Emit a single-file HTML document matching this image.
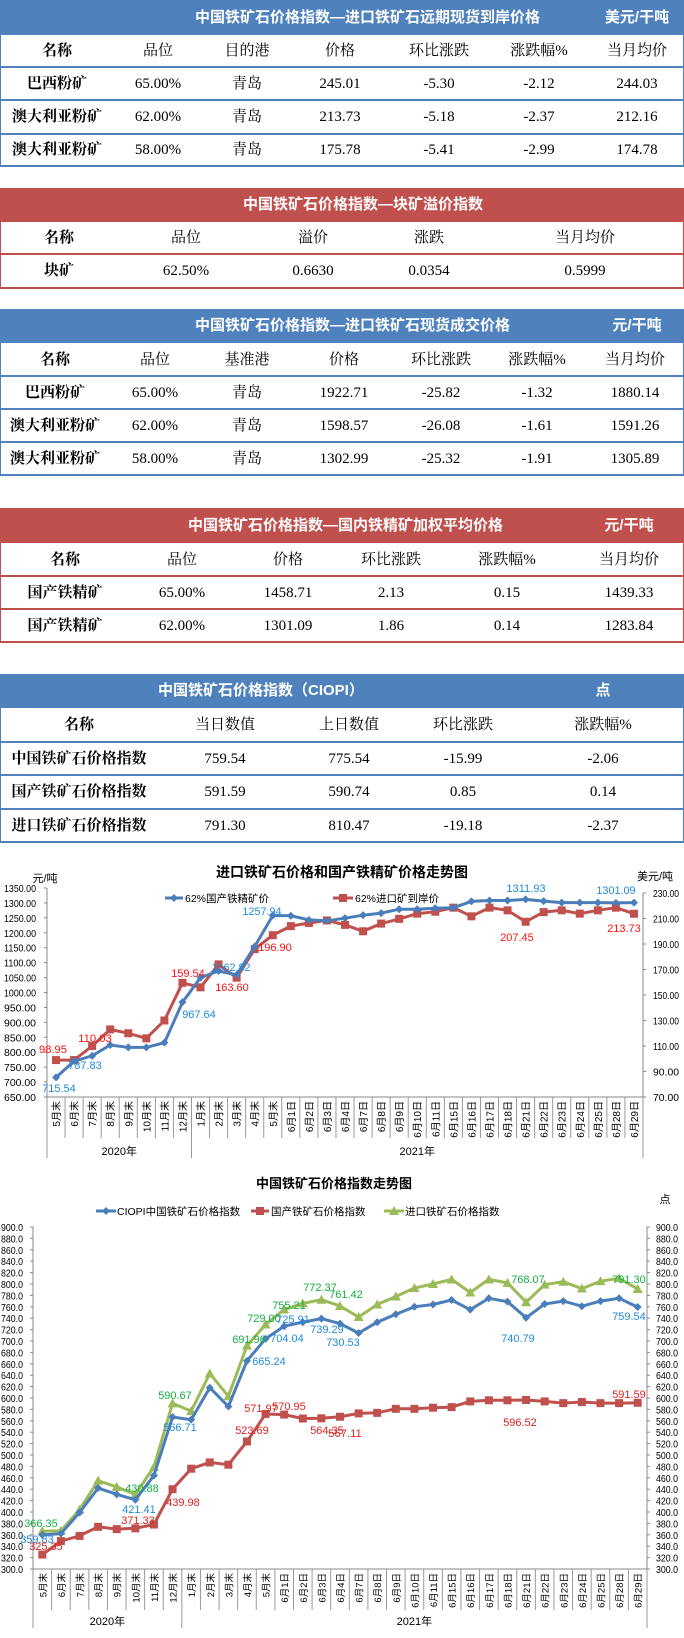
<!DOCTYPE html>
<html><head><meta charset="utf-8">
<style>
body{margin:0;width:684px;height:1638px;background:#fff;position:relative;overflow:hidden;font-family:"Liberation Serif","Noto Serif CJK SC",serif;}
.a{position:absolute;white-space:nowrap;}
.hd{position:absolute;left:0;width:684px;}
</style></head><body>
<div id="root"></div>
<svg id="c" width="684" height="1638" style="position:absolute;left:0;top:0" xmlns="http://www.w3.org/2000/svg"></svg>
<script>
var root=document.getElementById('root');
function div(css,txt){var d=document.createElement('div');d.className='a';d.style.cssText=css;if(txt!==undefined)d.textContent=txt;root.appendChild(d);return d;}
function txt(cx,cy,t,opt){opt=opt||{};var w=200;div('left:'+(cx-w/2)+'px;width:'+w+'px;text-align:center;top:'+(cy-9)+'px;line-height:18px;font-size:'+(opt.fs||15)+'px;color:'+(opt.c||'#000')+';font-weight:'+(opt.b?'bold':'normal')+';font-family:'+(opt.sans?'"Liberation Sans","Noto Sans CJK SC",sans-serif':'"Liberation Serif","Noto Serif CJK SC",serif'),t);}
function table(cfg){
 var col=cfg.col;
 div('left:0;top:'+cfg.y[0]+'px;width:684px;height:'+(cfg.y[1]-cfg.y[0])+'px;background:'+col);
 txt(cfg.tx,(cfg.y[0]+cfg.y[1])/2,cfg.title,{c:'#fff',b:1,sans:1,fs:15});
 if(cfg.unit)txt(cfg.ux,(cfg.y[0]+cfg.y[1])/2,cfg.unit,{c:'#fff',b:1,sans:1,fs:15});
 var ys=cfg.y;var bot=ys[ys.length-1];
 div('left:0;top:'+ys[1]+'px;width:1px;height:'+(bot-ys[1])+'px;background:'+col);
 div('left:683px;top:'+ys[1]+'px;width:1px;height:'+(bot-ys[1])+'px;background:'+col);
 for(var i=2;i<ys.length;i++)div('left:0;top:'+(ys[i]-1)+'px;width:684px;height:2px;background:'+col);
 for(var r=0;r<cfg.rows.length;r++){var cy=(ys[r+1]+ys[r+2])/2;
  for(var k=0;k<cfg.rows[r].length;k++){var b=(k==0);txt(cfg.cx[k],cy,cfg.rows[r][k],{b:b,fs:15});}}
}
var B='#4f81bd',R='#c0504d';
table({col:B,y:[0,35,67,100,134,166],title:'中国铁矿石价格指数—进口铁矿石远期现货到岸价格',tx:295,unit:'美元/干吨',ux:637,cx:[57,158,247,340,439,539,637],
rows:[['名称','品位','目的港','价格','环比涨跌','涨跌幅%','当月均价'],['巴西粉矿','65.00%','青岛','245.01','-5.30','-2.12','244.03'],['澳大利亚粉矿','62.00%','青岛','213.73','-5.18','-2.37','212.16'],['澳大利亚粉矿','58.00%','青岛','175.78','-5.41','-2.99','174.78']]});
table({col:R,y:[188,222,254,288],title:'中国铁矿石价格指数—块矿溢价指数',tx:343,cx:[59,186,313,429,585],
rows:[['名称','品位','溢价','涨跌','当月均价'],['块矿','62.50%','0.6630','0.0354','0.5999']]});
table({col:B,y:[309,343,376,409,442,475],title:'中国铁矿石价格指数—进口铁矿石现货成交价格',tx:295,unit:'元/干吨',ux:637,cx:[55,155,247,344,441,537,635],
rows:[['名称','品位','基准港','价格','环比涨跌','涨跌幅%','当月均价'],['巴西粉矿','65.00%','青岛','1922.71','-25.82','-1.32','1880.14'],['澳大利亚粉矿','62.00%','青岛','1598.57','-26.08','-1.61','1591.26'],['澳大利亚粉矿','58.00%','青岛','1302.99','-25.32','-1.91','1305.89']]});
table({col:R,y:[508,543,576,609,642],title:'中国铁矿石价格指数—国内铁精矿加权平均价格',tx:288,unit:'元/干吨',ux:629,cx:[65,182,288,391,507,629],
rows:[['名称','品位','价格','环比涨跌','涨跌幅%','当月均价'],['国产铁精矿','65.00%','1458.71','2.13','0.15','1439.33'],['国产铁精矿','62.00%','1301.09','1.86','0.14','1283.84']]});
table({col:B,y:[674,708,742,775,809,842],title:'中国铁矿石价格指数（CIOPI）',tx:258,unit:'点',ux:603,cx:[79,225,349,463,603],
rows:[['名称','当日数值','上日数值','环比涨跌','涨跌幅%'],['中国铁矿石价格指数','759.54','775.54','-15.99','-2.06'],['国产铁矿石价格指数','591.59','590.74','0.85','0.14'],['进口铁矿石价格指数','791.30','810.47','-19.18','-2.37']]});

var svg=document.getElementById('c');var NS='http://www.w3.org/2000/svg';
function el(n,a,t){var e=document.createElementNS(NS,n);for(var k in a)e.setAttribute(k,a[k]);if(t!==undefined)e.textContent=t;svg.appendChild(e);return e;}
var cats=['5月末','6月末','7月末','8月末','9月末','10月末','11月末','12月末','1月末','2月末','3月末','4月末','5月末','6月1日','6月2日','6月3日','6月4日','6月7日','6月8日','6月9日','6月10日','6月11日','6月15日','6月16日','6月17日','6月18日','6月21日','6月22日','6月23日','6月24日','6月25日','6月28日','6月29日'];
var F='"Liberation Sans","Noto Sans CJK SC",sans-serif';
function marker(type,x,y,c){if(type=='d')el('path',{d:'M'+x+' '+(y-4)+'L'+(x+4)+' '+y+'L'+x+' '+(y+4)+'L'+(x-4)+' '+y+'Z',fill:c});
 else if(type=='s')el('rect',{x:x-4,y:y-4,width:8,height:8,fill:c});
 else el('path',{d:'M'+x+' '+(y-5)+'L'+(x+5)+' '+(y+4)+'L'+(x-5)+' '+(y+4)+'Z',fill:c});}
function series(xs,ys,c,type,w){var d='';for(var i=0;i<xs.length;i++)d+=(i?'L':'M')+xs[i].toFixed(1)+' '+ys[i].toFixed(1);el('path',{d:d,fill:'none',stroke:c,'stroke-width':w||3});for(var i=0;i<xs.length;i++)marker(type,xs[i],ys[i],c);}
function lab(x,y,t,c){el('text',{x:x,y:y+4,'text-anchor':'middle','font-family':F,'font-size':11,fill:c,'textLength':t.length*5.6,lengthAdjust:'spacingAndGlyphs'},t);}
function catAxis(x0,x1,yb,ylb,yyr,yend,fs){var n=cats.length,w=(x1-x0)/n;
 el('line',{x1:x0,y1:yb,x2:x1,y2:yb,stroke:'#888'});
 for(var i=0;i<=n;i++){var x=x0+i*w;var e=(i==0||i==8||i==n)?yend:ylb;el('line',{x1:x,y1:yb,x2:x,y2:e,stroke:'#999'});}
 for(var i=0;i<n;i++){var x=x0+(i+0.5)*w;var t=el('text',{x:0,y:0,transform:'translate('+(x+4)+','+(yb+4)+') rotate(-90)','text-anchor':'end','font-family':F,'font-size':fs,fill:'#000'},cats[i]);}
 el('text',{x:x0+4*w,y:yyr,'text-anchor':'middle','font-family':F,'font-size':11},'2020年');
 el('text',{x:x0+20.5*w,y:yyr,'text-anchor':'middle','font-family':F,'font-size':11},'2021年');
 return w;}
// Chart 1
(function(){var x0=47,x1=643;var yL=function(v){return 888+(1350-v)/700*209;};var yR=function(v){return 893+(230-v)/160*204;};
 el('text',{x:342,y:877,'text-anchor':'middle','font-family':F,'font-size':14,'font-weight':'bold'},'进口铁矿石价格和国产铁精矿价格走势图');
 el('text',{x:45,y:882,'text-anchor':'middle','font-family':F,'font-size':11},'元/吨');
 el('text',{x:655,y:880,'text-anchor':'middle','font-family':F,'font-size':11},'美元/吨');
 el('line',{x1:x0,y1:888,x2:x0,y2:1097,stroke:'#888'});el('line',{x1:x1,y1:893,x2:x1,y2:1097,stroke:'#888'});
 for(var v=650;v<=1350;v+=50){el('text',{x:36,y:yL(v)+4,'text-anchor':'end','font-family':F,'font-size':10.5,textLength:32,lengthAdjust:'spacingAndGlyphs'},v.toFixed(2));el('line',{x1:x0-3,y1:yL(v),x2:x0,y2:yL(v),stroke:'#888'});}
 for(var v=70;v<=230;v+=20){el('text',{x:653,y:yR(v)+4,'font-family':F,'font-size':10.5,textLength:26,lengthAdjust:'spacingAndGlyphs'},v.toFixed(2));el('line',{x1:x1,y1:yR(v),x2:x1+3,y2:yR(v),stroke:'#888'});}
 var w=catAxis(x0,x1,1097,1138,1155,1158,10);
 var blue=[715.54,770,787.83,824,816,816,832,967.64,1050,1072,1059,1154,1257.94,1257,1243,1240,1249,1259,1266,1279,1279,1282,1284,1305,1308,1308,1311.93,1306,1301,1301,1301,1300,1301.09];
 var red=[98.95,99,110.03,123,120,116,130,159.54,156,174,163.6,186,196.9,204,206.5,208.5,205,200,206,209.7,213.8,215.3,218.5,211.7,218.5,216.4,207.45,215,216.4,213.8,216.4,218.5,213.73];
 var xs=blue.map(function(_,i){return x0+(i+0.5)*w;});
 series(xs,red.map(yR),'#c0504d','s',3);series(xs,blue.map(yL),'#4a7ebb','d',3);
 el('line',{x1:165,y1:898,x2:183,y2:898,stroke:'#4a7ebb','stroke-width':3});marker('d',174,898,'#4a7ebb');
 el('text',{x:185,y:902,'font-family':F,'font-size':10.5},'62%国产铁精矿价');
 el('line',{x1:333,y1:898,x2:353,y2:898,stroke:'#c0504d','stroke-width':3});marker('s',343,898,'#c0504d');
 el('text',{x:355,y:902,'font-family':F,'font-size':10.5},'62%进口矿到岸价');
 var bc='#1f8ad8',rc='#ff1010';
 [[59,1088,'715.54'],[85,1065,'787.83'],[199,1014,'967.64'],[231,967,'1062.82'],[262,911,'1257.94'],[526,888,'1311.93'],[616,890,'1301.09']].forEach(function(a){lab(a[0],a[1],a[2],bc);});
 [[53,1049,'98.95'],[95,1038,'110.03'],[188,973,'159.54'],[232,987,'163.60'],[275,947,'196.90'],[517,937,'207.45'],[624,928,'213.73']].forEach(function(a){lab(a[0],a[1],a[2],rc);});
})();
// Chart 2
(function(){var x0=33,x1=647;var Y=function(v){return 1227+(900-v)/600*342;};
 el('text',{x:334,y:1188,'text-anchor':'middle','font-family':F,'font-size':13,'font-weight':'bold'},'中国铁矿石价格指数走势图');
 el('text',{x:665,y:1203,'text-anchor':'middle','font-family':F,'font-size':11},'点');
 el('line',{x1:x0,y1:1227,x2:x0,y2:1569,stroke:'#888'});el('line',{x1:x1,y1:1227,x2:x1,y2:1569,stroke:'#888'});
 for(var v=300;v<=900;v+=20){el('text',{x:1,y:Y(v)+4,'font-family':F,'font-size':10,textLength:22,lengthAdjust:'spacingAndGlyphs'},v.toFixed(1));el('text',{x:656,y:Y(v)+4,'font-family':F,'font-size':10,textLength:22,lengthAdjust:'spacingAndGlyphs'},v.toFixed(1));
  el('line',{x1:x0-3,y1:Y(v),x2:x0,y2:Y(v),stroke:'#888'});el('line',{x1:x1,y1:Y(v),x2:x1+3,y2:Y(v),stroke:'#888'});}
 var w=catAxis(x0,x1,1569,1610,1625,1628,9.5);
 var bl=[359.83,362,399,442,431,421.41,464,566.71,562,618,585,665.24,704.04,725.91,733,739.29,730.53,714,733,747,760,764,772,755,775,769,740.79,765,770,761,770,775,759.54];
 var rd=[325.35,349,358,374,370,371.33,378,439.98,476,487,483,523.69,571.97,570.95,564,564.35,567.11,573,574,581,581,583,584,594,596,596,596.52,594,591,593,591,591,591.59];
 var gr=[366.35,367,404,455,444,430.88,479,590.67,577,643,603,691.96,729,755.21,766,772.37,761.42,742,764,778,793,800,808,785,808,802,768.07,799,804,792,805,810,791.3];
 var xs=bl.map(function(_,i){return x0+(i+0.5)*w;});
 series(xs,gr.map(Y),'#9bbb59','t',3);series(xs,bl.map(Y),'#4a7ebb','d',3);series(xs,rd.map(Y),'#c0504d','s',3);
 el('line',{x1:96,y1:1211,x2:116,y2:1211,stroke:'#4a7ebb','stroke-width':3});marker('d',106,1211,'#4a7ebb');
 el('text',{x:117,y:1215,'font-family':F,'font-size':10.5},'CIOPI中国铁矿石价格指数');
 el('line',{x1:251,y1:1211,x2:269,y2:1211,stroke:'#c0504d','stroke-width':3});marker('s',260,1211,'#c0504d');
 el('text',{x:271,y:1215,'font-family':F,'font-size':10.5},'国产铁矿石价格指数');
 el('line',{x1:384,y1:1211,x2:404,y2:1211,stroke:'#9bbb59','stroke-width':3});marker('t',394,1211,'#9bbb59');
 el('text',{x:405,y:1215,'font-family':F,'font-size':10.5},'进口铁矿石价格指数');
 var gc='#12b040',bc='#1f8ad8',rc='#e02020';
 [[41,1523,'366.35'],[142,1488,'430.88'],[175,1395,'590.67'],[249,1339,'691.96'],[264,1318,'729.00'],[289,1305,'755.21'],[320,1287,'772.37'],[346,1294,'761.42'],[528,1279,'768.07'],[629,1279,'791.30']].forEach(function(a){lab(a[0],a[1],a[2],gc);});
 [[37,1539,'359.83'],[139,1509,'421.41'],[180,1427,'566.71'],[269,1361,'665.24'],[287,1338,'704.04'],[293,1319,'725.91'],[327,1329,'739.29'],[343,1342,'730.53'],[518,1338,'740.79'],[629,1316,'759.54']].forEach(function(a){lab(a[0],a[1],a[2],bc);});
 [[46,1546,'325.35'],[138,1520,'371.33'],[183,1502,'439.98'],[252,1430,'523.69'],[261,1408,'571.97'],[289,1406,'570.95'],[327,1430,'564.35'],[345,1433,'567.11'],[520,1422,'596.52'],[629,1394,'591.59']].forEach(function(a){lab(a[0],a[1],a[2],rc);});
})();
</script>
</body></html>
